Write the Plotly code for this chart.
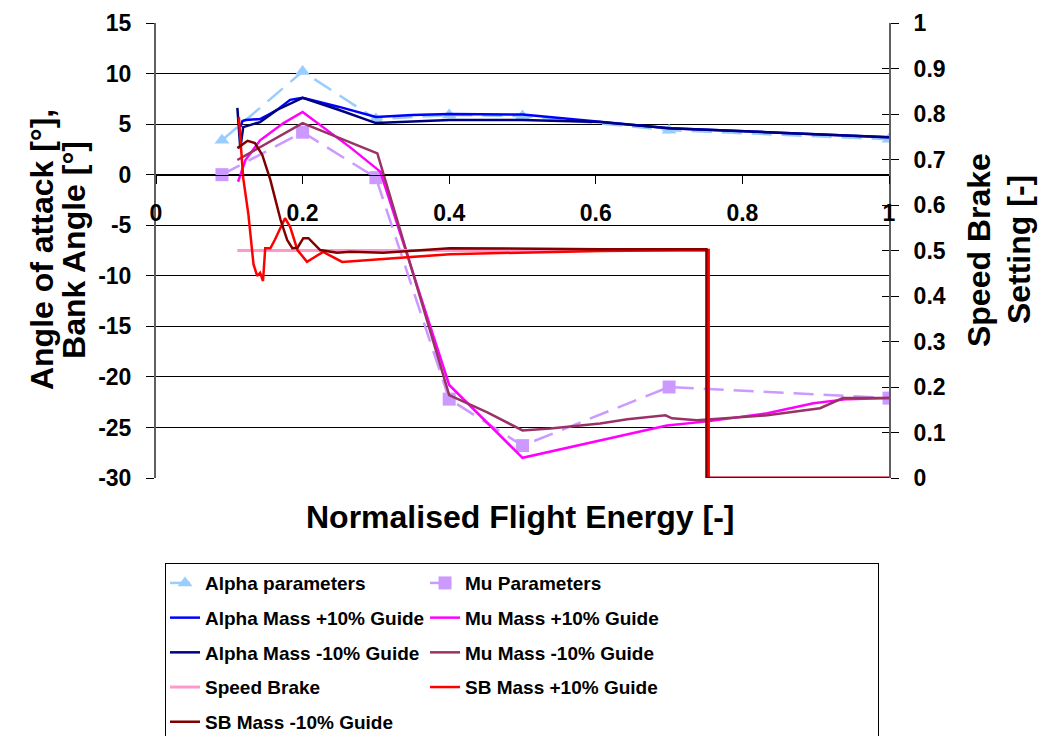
import plotly.graph_objects as go

# ---------------- data ----------------
param_x = [0.09, 0.2, 0.3, 0.4, 0.5, 0.7, 1.0]
alpha_param = [3.4, 10.2, 5.5, 5.9, 5.8, 4.4, 3.5]
mu_param = [0.0, 4.2, -0.3, -22.2, -26.8, -21.0, -22.1]

alpha_p10_x = [0.115, 0.118, 0.122, 0.142, 0.155, 0.165, 0.183, 0.2, 0.25, 0.3, 0.35, 0.4, 0.5, 0.606, 0.7, 0.85, 1.0]
alpha_p10_y = [4.7, 5.3, 5.4, 5.5, 6.0, 6.4, 7.4, 7.6, 6.7, 5.7, 5.9, 6.0, 5.95, 5.2, 4.6, 4.15, 3.7]

alpha_m10_x = [0.111, 0.115, 0.119, 0.142, 0.165, 0.187, 0.2, 0.25, 0.3, 0.4, 0.5, 0.606, 0.7, 0.85, 1.0]
alpha_m10_y = [6.6, 2.6, 4.7, 5.2, 6.4, 7.2, 7.6, 6.4, 5.1, 5.4, 5.4, 5.2, 4.6, 4.15, 3.7]

mu_p10_x = [0.112, 0.122, 0.142, 0.174, 0.2, 0.265, 0.306, 0.4, 0.5, 0.697, 0.752, 0.834, 0.897, 0.943, 1.0]
mu_p10_y = [-0.7, 1.45, 3.4, 5.1, 6.2, 2.7, 0.3, -20.8, -28.0, -24.8, -24.4, -23.6, -22.6, -22.2, -22.1]

mu_m10_x = [0.111, 0.2, 0.302, 0.4, 0.452, 0.5, 0.538, 0.606, 0.643, 0.695, 0.704, 0.738, 0.834, 0.906, 0.937, 1.0]
mu_m10_y = [1.45, 5.1, 2.1, -21.8, -23.5, -25.3, -25.1, -24.6, -24.2, -23.8, -24.1, -24.3, -23.8, -23.1, -22.1, -22.1]

sb_x = [0.111, 0.752, 0.752, 1.0]
sb_y = [0.5, 0.5, 0.0, 0.0]

sb_p10_x = [0.113, 0.119, 0.126, 0.133, 0.138, 0.142, 0.146, 0.149, 0.156, 0.162, 0.176, 0.183, 0.193,
            0.206, 0.215, 0.228, 0.254, 0.33, 0.401, 0.606, 0.754, 0.754, 1.0]
sb_p10_y = [0.793, 0.659, 0.580, 0.470, 0.444, 0.451, 0.433, 0.505, 0.505, 0.523, 0.571, 0.552, 0.501,
            0.475, 0.484, 0.497, 0.475, 0.484, 0.492, 0.499, 0.501, 0.0, 0.0]

sb_m10_x = [0.111, 0.125, 0.135, 0.145, 0.156, 0.170, 0.179, 0.186, 0.193, 0.201, 0.208, 0.215, 0.224,
            0.247, 0.265, 0.31, 0.401, 0.606, 0.751, 0.751, 1.0]
sb_m10_y = [0.725, 0.741, 0.736, 0.710, 0.655, 0.567, 0.523, 0.505, 0.506, 0.527, 0.527, 0.516, 0.501,
            0.495, 0.497, 0.495, 0.505, 0.503, 0.503, 0.0, 0.0]

x_tick_vals = [0, 0.2, 0.4, 0.6, 0.8, 1.0]
x_tick_text = ["0", "0.2", "0.4", "0.6", "0.8", "1"]
y_tick_vals = [-30, -25, -20, -15, -10, -5, 0, 5, 10, 15]
y_tick_text = ["-30", "-25", "-20", "-15", "-10", "-5", "0", "5", "10", "15"]
y2_tick_vals = [0, 0.1, 0.2, 0.3, 0.4, 0.5, 0.6, 0.7, 0.8, 0.9, 1.0]
y2_tick_text = ["0", "0.1", "0.2", "0.3", "0.4", "0.5", "0.6", "0.7", "0.8", "0.9", "1"]

FONT = "Liberation Sans, Arial, sans-serif"
DASH = "20px,10px"
LW = 2.5
COL1_W = 215   # legend entry width, left column
COL2_W = 408   # legend entry width, right column (stretches the frame)

fig = go.Figure()

fig.add_trace(go.Scatter(x=param_x, y=alpha_param, name="Alpha parameters", mode="lines+markers",
                         line=dict(color="#99CCFF", width=LW, dash=DASH),
                         marker=dict(symbol="triangle-up", size=13, color="#99CCFF"),
                         legendgroup="g1", legendwidth=COL1_W))
fig.add_trace(go.Scatter(x=param_x, y=mu_param, name="Mu Parameters", mode="lines+markers",
                         line=dict(color="#CC99FF", width=LW, dash=DASH),
                         marker=dict(symbol="square", size=13, color="#CC99FF"),
                         legendgroup="g2", legendwidth=COL2_W))
fig.add_trace(go.Scatter(x=alpha_p10_x, y=alpha_p10_y, name="Alpha Mass +10% Guide", mode="lines",
                         line=dict(color="#0000FF", width=LW), legendgroup="g3", legendwidth=COL1_W))
fig.add_trace(go.Scatter(x=mu_p10_x, y=mu_p10_y, name="Mu Mass +10% Guide", mode="lines",
                         line=dict(color="#FF00FF", width=LW), legendgroup="g4", legendwidth=COL2_W))
fig.add_trace(go.Scatter(x=alpha_m10_x, y=alpha_m10_y, name="Alpha Mass -10% Guide", mode="lines",
                         line=dict(color="#000080", width=LW), legendgroup="g5", legendwidth=COL1_W))
fig.add_trace(go.Scatter(x=mu_m10_x, y=mu_m10_y, name="Mu Mass -10% Guide", mode="lines",
                         line=dict(color="#993366", width=LW), legendgroup="g6", legendwidth=COL2_W))
fig.add_trace(go.Scatter(x=sb_x, y=sb_y, name="Speed Brake", mode="lines", yaxis="y2",
                         line=dict(color="#FF99CC", width=3), legendgroup="g7", legendwidth=COL1_W))
fig.add_trace(go.Scatter(x=sb_p10_x, y=sb_p10_y, name="SB Mass +10% Guide", mode="lines", yaxis="y2",
                         line=dict(color="#FF0000", width=LW), legendgroup="g8", legendwidth=COL2_W))
fig.add_trace(go.Scatter(x=sb_m10_x, y=sb_m10_y, name="SB Mass -10% Guide", mode="lines", yaxis="y2",
                         line=dict(color="#800000", width=LW), legendgroup="g9", legendwidth=COL1_W))
# helper trace to carry the inner tick marks of the right axis
fig.add_trace(go.Scatter(x=[None], y=[None], yaxis="y3", showlegend=False, hoverinfo="skip"))

tickfont = dict(family=FONT, size=23, color="black", weight="bold")

fig.update_layout(
    width=1044, height=736,
    margin=dict(l=156, r=155, t=23, b=258, autoexpand=False),
    paper_bgcolor="white", plot_bgcolor="white",
    font=dict(family=FONT, size=19, color="black", weight="bold"),
    showlegend=True,
    legend=dict(orientation="h", x=0.0123, xanchor="left", y=-0.187, yanchor="top",
                entrywidthmode="pixels", tracegroupgap=7,
                bordercolor="black", borderwidth=1, bgcolor="white",
                font=dict(family=FONT, size=19, color="black", weight="bold"),
                traceorder="grouped"),
    xaxis=dict(range=[0, 1], tickvals=x_tick_vals, ticktext=x_tick_text, anchor="free", position=2 / 3,
               showline=True, linecolor="black", linewidth=1, ticks="outside", ticklen=8,
               tickcolor="black", tickwidth=1, showgrid=False, zeroline=False,
               ticklabelstandoff=10, tickfont=tickfont),
    yaxis=dict(range=[-30, 15], tickvals=y_tick_vals, ticktext=y_tick_text,
               showline=True, linecolor="#606060", linewidth=2, ticks="outside", ticklen=8,
               tickcolor="black", tickwidth=1, showgrid=True, gridcolor="black", gridwidth=1,
               zeroline=False, ticklabelstandoff=10, tickfont=tickfont),
    yaxis2=dict(range=[0, 1], overlaying="y", side="right", tickvals=y2_tick_vals, ticktext=y2_tick_text,
                showline=True, linecolor="#606060", linewidth=2, ticks="outside", ticklen=8,
                tickcolor="black", tickwidth=1, showgrid=False, zeroline=False,
                ticklabelstandoff=10, tickfont=tickfont),
    yaxis3=dict(range=[0, 1], overlaying="y", side="right", tickvals=y2_tick_vals,
                ticks="inside", ticklen=7, tickcolor="black", tickwidth=1,
                showticklabels=False, showgrid=False, zeroline=False, showline=False),
)

title_font = dict(family=FONT, size=32, color="black", weight="bold")
fig.add_annotation(text="Normalised Flight Energy [-]", xref="paper", yref="paper", x=0.4966, y=-0.0857,
                   xanchor="center", yanchor="middle", showarrow=False, font=title_font)
fig.add_annotation(text="Angle of attack [°],", xref="paper", yref="paper", x=-0.1555, y=0.501,
                   xanchor="center", yanchor="middle", textangle=-90, showarrow=False, font=title_font)
fig.add_annotation(text="Bank Angle [°]", xref="paper", yref="paper", x=-0.112, y=0.501,
                   xanchor="center", yanchor="middle", textangle=-90, showarrow=False, font=title_font)
fig.add_annotation(text="Speed Brake", xref="paper", yref="paper", x=1.1228, y=0.501,
                   xanchor="center", yanchor="middle", textangle=-90, showarrow=False, font=title_font)
fig.add_annotation(text="Setting [-]", xref="paper", yref="paper", x=1.1774, y=0.501,
                   xanchor="center", yanchor="middle", textangle=-90, showarrow=False, font=title_font)

fig.write_html("out.html")
